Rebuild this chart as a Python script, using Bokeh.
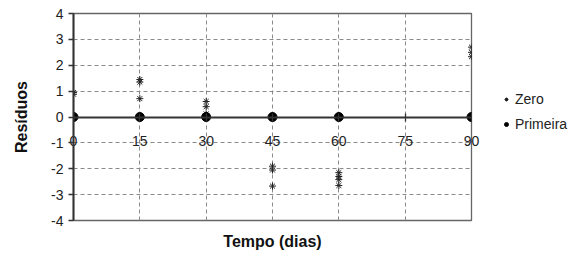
from bokeh.plotting import figure
from bokeh.models import (Range1d, FixedTicker, Legend, LegendItem, Title,
                          ColumnDataSource, LinearAxis)
from bokeh.embed import file_html
from bokeh.resources import INLINE

# Data
zero_x = [0, 0, 15, 15, 15, 30, 30, 30, 45, 45, 45, 60, 60, 60, 60, 90, 90, 90]
zero_y = [0.95, 0.88, 1.45, 1.35, 0.71, 0.6, 0.4, 0.12, -1.9, -2.05, -2.67,
          -2.15, -2.3, -2.42, -2.65, 2.7, 2.5, 2.33]
prim_x = [0, 15, 30, 45, 60, 90]
prim_y = [0, 0, 0, 0, 0, 0]
x_ticks = [0, 15, 30, 45, 60, 75, 90]
y_ticks = [-4, -3, -2, -1, 0, 1, 2, 3, 4]

FONT = "Liberation Sans"

p = figure(frame_width=398, frame_height=207, output_backend="svg",
           toolbar_location=None,
           x_range=Range1d(0, 90), y_range=Range1d(-4, 4),
           x_axis_location=None,
           min_border_left=73, min_border_top=13, min_border_bottom=30,
           min_border_right=100)
p.background_fill_color = "white"
p.border_fill_color = "white"
p.outline_line_color = "#666666"
p.outline_line_width = 1.3

# x axis line at y = 0 (ticks only)
ax0 = LinearAxis(fixed_location=0, ticker=FixedTicker(ticks=x_ticks),
                 axis_line_color="#333333", axis_line_width=2,
                 major_tick_line_color="#333333", major_tick_line_width=1.3,
                 major_tick_in=4, major_tick_out=4,
                 minor_tick_line_color=None, major_label_text_color=None,
                 major_label_text_font_size="1px")
p.add_layout(ax0, "below")

# x tick labels (drawn below the zero line, Excel-style)
axl = LinearAxis(ticker=FixedTicker(ticks=x_ticks),
                 major_label_overrides={t: str(t) for t in x_ticks},
                 axis_line_color=None, major_tick_line_color=None,
                 minor_tick_line_color=None,
                 major_label_text_font=FONT, major_label_text_font_size="14px",
                 major_label_text_color="#222222",
                 major_label_standoff=-91)
p.add_layout(axl, "below")

# y axis
p.yaxis.ticker = FixedTicker(ticks=y_ticks)
p.yaxis.major_label_overrides = {t: str(t) for t in y_ticks}
p.yaxis.minor_tick_line_color = None
p.yaxis.axis_line_color = "#333333"
p.yaxis.axis_line_width = 2
p.yaxis.major_tick_line_color = "#333333"
p.yaxis.major_tick_line_width = 1.3
p.yaxis.major_label_text_font = FONT
p.yaxis.major_label_text_font_size = "14px"
p.yaxis.major_label_text_color = "#222222"
p.yaxis.major_tick_in = 0
p.yaxis.major_tick_out = 5
p.yaxis.major_label_standoff = 5
p.yaxis.axis_label = "Resíduos"
p.yaxis.axis_label_text_font = FONT
p.yaxis.axis_label_text_font_style = "bold"
p.yaxis.axis_label_text_font_size = "16px"
p.yaxis.axis_label_text_color = "#111111"
p.yaxis.axis_label_standoff = 18

p.add_layout(Title(text="Tempo (dias)", align="center", text_font=FONT,
                   text_font_size="16px", text_font_style="bold",
                   text_color="#111111", standoff=21), "below")

# Grid
p.xgrid.ticker = FixedTicker(ticks=[15, 30, 45, 60, 75])
p.ygrid.ticker = FixedTicker(ticks=[-3, -2, -1, 1, 2, 3])
for g in (p.xgrid, p.ygrid):
    g.grid_line_color = "#8a8a8a"
    g.grid_line_dash = "4 3"
    g.grid_line_width = 1

# Series
src_z = ColumnDataSource(dict(x=zero_x, y=zero_y))
src_p = ColumnDataSource(dict(x=prim_x, y=prim_y))
rz = p.scatter("x", "y", source=src_z, marker="asterisk", size=7,
               line_color="#222222", line_width=1.0)
rp = p.scatter("x", "y", source=src_p, marker="circle", size=9,
               fill_color="black", line_color="black")

legend = Legend(items=[LegendItem(label="Zero", renderers=[rz]),
                       LegendItem(label="Primeira", renderers=[rp])],
                label_text_font=FONT, label_text_font_size="14px",
                label_text_color="#222222",
                border_line_color=None, background_fill_alpha=0,
                glyph_width=10, glyph_height=16, spacing=9,
                label_standoff=4, padding=0, margin=0,
                location=(30, 88))
p.add_layout(legend, "right")

open("out.html", "w").write(file_html(p, INLINE))
